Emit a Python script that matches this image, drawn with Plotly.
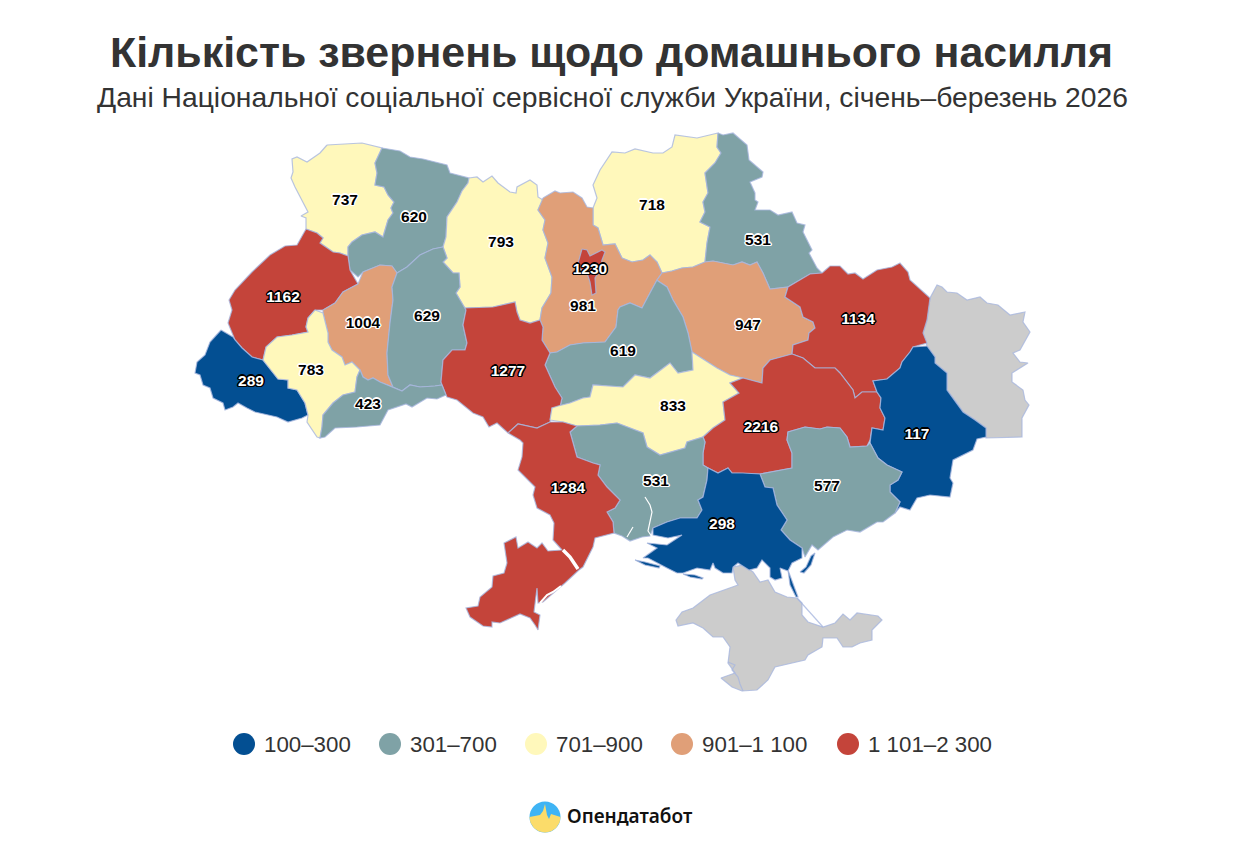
import numpy as np
import plotly.graph_objects as go

TITLE = "Кількість звернень щодо домашнього насилля"
SUBTITLE = "Дані Національної соціальної сервісної служби України, січень–березень 2026"
BRAND = "Опендатабот"

REGIONS = ["Волинська", "Рівненська", "Житомирська", "Чернігівська", "Сумська", "Київська", "м. Київ", "Львівська",
           "Тернопільська", "Хмельницька", "Полтавська", "Харківська", "Черкаська", "Закарпатська", "Івано-Франківська",
           "Вінницька", "Чернівецька", "Кіровоградська", "Дніпропетровська", "Донецька", "Миколаївська", "Одеська",
           "Запорізька", "Херсонська"]
VALUES = [737, 620, 793, 718, 531, 981, 1230, 1162, 1004, 629, 947, 1134, 619, 289, 783, 1277, 423, 833, 2216, 117,
          531, 1284, 577, 298]
LABEL_X = [345, 414, 501, 652, 758, 583, 590, 283, 363, 427, 748, 858, 623, 251, 311, 508, 368, 673, 761, 917, 656, 568, 827, 722]
LABEL_Y = [201, 218, 243, 206, 241, 307, 270, 298, 324, 317, 326, 320, 352, 382, 371, 372, 405, 407, 428, 435, 482, 489, 487, 525]

BIN_UPPER = [300, 700, 900, 1100, 2300]
BIN_LABELS = ["100–300", "301–700", "701–900", "901–1 100", "1 101–2 300"]
BIN_COLORS = ["#034f92", "#7fa2a6", "#fff8bb", "#e09f78", "#c4443a"]
LEGEND_X = [244, 390, 536, 682, 848]
GREY = "#cccccc"
EDGE = "rgba(168,182,222,0.8)"

VOLYN = [(327,145),(362,143),(382,148),(375,163),(377,173),(375,185),(384,187),(388,195),(394,202),(391,208),(393,213),(388,220),(383,237),(375,232),(362,235),(352,242),(348,247),(348,256),(340,253),(333,252),(320,243),(323,238),(317,233),(306,229),(306,218),(301,216),(308,212),(300,197),(295,187),(291,178),(293,172),(292,159),(297,157),(307,162),(320,153)]
RIVNE = [(382,148),(400,151),(410,157),(423,159),(447,165),(450,173),(469,178),(468,183),(462,191),(457,202),(447,217),(446,237),(443,247),(433,249),(420,255),(407,267),(397,273),(392,266),(380,265),(363,272),(358,277),(350,270),(348,256),(348,247),(352,242),(362,235),(375,232),(383,237),(388,220),(393,213),(391,208),(394,202),(388,195),(384,187),(375,185),(377,173),(375,163)]
LVIV = [(306,229),(317,233),(323,238),(320,243),(333,252),(340,253),(348,256),(350,270),(358,284),(343,292),(335,303),(323,310),(315,310),(308,318),(306,327),(308,332),(292,335),(277,337),(266,347),(263,360),(252,357),(242,348),(235,340),(228,323),(232,310),(229,300),(235,290),(252,272),(270,255),(285,246),(297,245)]
ZAKARPATTIA = [(221,330),(233,337),(235,340),(242,348),(252,357),(263,360),(278,379),(288,380),(288,388),(297,390),(305,403),(308,415),(302,418),(288,422),(277,417),(268,415),(255,412),(247,408),(238,403),(233,407),(225,410),(223,403),(213,398),(210,388),(203,385),(200,375),(195,373),(197,362),(205,355),(210,342)]
FRANKIVSK = [(315,310),(323,313),(328,333),(328,342),(332,350),(342,357),(345,365),(352,362),(360,370),(357,377),(355,392),(343,395),(333,403),(323,415),(322,427),(320,438),(317,437),(307,422),(308,415),(305,403),(297,390),(288,388),(288,380),(278,379),(263,360),(266,347),(277,337),(292,335),(308,332),(306,327),(308,318)]
TERNOPIL = [(358,284),(363,272),(380,265),(392,266),(397,273),(392,287),(393,300),(390,323),(387,353),(388,375),(393,387),(380,382),(373,378),(368,380),(363,377),(360,370),(352,362),(345,365),(342,357),(332,350),(328,342),(328,333),(323,313),(323,310),(335,303),(343,292)]
CHERNIVTSI = [(360,370),(363,377),(368,380),(373,378),(380,382),(393,387),(402,391),(410,385),(420,387),(435,386),(442,385),(446,395),(437,399),(427,398),(412,407),(406,404),(388,410),(380,425),(357,427),(335,428),(325,437),(320,438),(322,427),(323,415),(333,403),(343,395),(355,392),(357,377)]
KHMELNYTSKYI = [(397,273),(407,267),(420,255),(433,249),(443,247),(447,258),(443,262),(453,273),(459,273),(460,287),(456,293),(463,305),(465,308),(466,310),(463,325),(467,343),(465,350),(452,350),(443,360),(441,382),(442,385),(435,386),(420,387),(410,385),(402,391),(393,387),(388,375),(387,353),(390,323),(393,300),(392,287)]
ZHYTOMYR = [(469,178),(477,177),(483,182),(492,176),(498,183),(510,192),(516,193),(517,187),(530,180),(537,185),(538,197),(543,200),(538,210),(545,220),(543,230),(548,243),(545,258),(552,277),(551,293),(542,308),(540,320),(530,323),(520,320),(517,312),(515,302),(493,307),(465,308),(463,305),(456,293),(460,287),(459,273),(453,273),(443,262),(447,258),(443,247),(446,237),(447,217),(457,202),(462,191),(468,183)]
VINNYTSIA = [(465,308),(493,307),(515,302),(517,312),(520,320),(530,323),(540,320),(543,327),(542,340),(550,353),(545,365),(555,387),(562,398),(560,407),(552,408),(550,422),(537,428),(518,424),(508,433),(497,423),(489,427),(483,417),(473,413),(457,400),(447,397),(446,395),(442,385),(441,382),(443,360),(452,350),(465,350),(467,343),(463,325),(466,310)]
KYIV_OBL = [(543,198),(555,191),(560,193),(573,192),(582,198),(587,207),(593,208),(593,225),(598,228),(603,245),(615,244),(622,258),(632,262),(643,260),(650,255),(657,262),(662,273),(657,280),(650,293),(642,308),(630,303),(620,307),(618,310),(616,327),(605,342),(583,343),(570,345),(557,352),(550,353),(542,340),(543,327),(540,320),(542,308),(551,293),(552,277),(545,258),(548,243),(543,230),(545,220),(538,210)]
KYIV_CITY = [(582,249),(587,250),(590,256),(602,250),(605,252),(602,260),(600,270),(595,278),(596,293),(592,295),(590,282),(587,273),(577,267),(580,255)]
CHERNIHIV = [(593,208),(597,198),(593,185),(600,170),(612,152),(625,153),(635,149),(653,153),(663,153),(672,147),(675,135),(697,138),(718,133),(717,147),(721,153),(715,163),(705,173),(708,193),(703,202),(705,212),(700,222),(710,227),(707,243),(705,262),(693,267),(682,268),(672,271),(662,273),(657,262),(650,255),(643,260),(632,262),(622,258),(615,244),(603,245),(598,228),(593,225)]
SUMY = [(718,133),(723,135),(733,133),(747,145),(749,160),(763,172),(762,177),(750,182),(755,193),(755,200),(758,202),(755,210),(770,210),(778,215),(792,212),(797,223),(805,225),(803,232),(812,250),(809,253),(817,268),(822,273),(810,274),(788,287),(770,289),(763,273),(757,262),(750,265),(742,262),(733,265),(713,261),(705,262),(707,243),(710,227),(700,222),(705,212),(703,202),(708,193),(705,173),(715,163),(721,153),(717,147)]
POLTAVA = [(705,262),(713,261),(733,265),(742,262),(750,265),(757,262),(763,273),(770,289),(788,287),(785,297),(800,307),(803,317),(813,322),(815,328),(809,333),(808,340),(793,345),(792,354),(770,360),(763,368),(762,383),(743,378),(730,375),(717,368),(692,352),(688,333),(683,317),(673,300),(667,287),(658,281),(657,280),(662,273),(672,271),(682,268),(693,267)]
KHARKIV = [(822,273),(830,266),(840,266),(848,274),(855,273),(863,279),(877,270),(892,267),(900,263),(908,272),(910,280),(930,298),(927,320),(923,333),(927,343),(913,347),(910,352),(902,362),(900,368),(887,379),(873,381),(877,392),(862,392),(855,398),(853,390),(847,382),(840,373),(835,368),(815,368),(803,358),(792,354),(793,345),(808,340),(809,333),(815,328),(813,322),(803,317),(800,307),(785,297),(788,287),(810,274)]
CHERKASY = [(657,280),(658,281),(667,287),(673,300),(683,317),(688,333),(692,352),(693,370),(678,373),(670,363),(650,378),(635,375),(623,387),(610,386),(593,385),(590,397),(583,398),(570,403),(558,406),(552,408),(560,407),(562,398),(555,387),(545,365),(550,353),(557,352),(570,345),(583,343),(605,342),(616,327),(618,310),(620,307),(630,303),(642,308),(650,293)]
KIROVOHRAD = [(550,420),(552,408),(558,406),(570,403),(583,398),(590,397),(593,385),(610,386),(623,387),(635,375),(650,378),(670,363),(678,373),(693,370),(692,352),(717,368),(730,375),(743,378),(730,383),(739,393),(723,402),(725,420),(713,428),(703,437),(687,442),(685,448),(660,455),(647,447),(643,433),(630,428),(617,423),(600,425),(577,426),(563,422)]
DNIPRO = [(792,354),(803,358),(815,368),(835,368),(840,373),(847,382),(853,390),(855,398),(862,392),(877,392),(881,398),(880,408),(885,418),(883,430),(872,428),(870,440),(867,446),(850,447),(847,437),(840,428),(827,427),(820,429),(805,427),(788,432),(787,440),(792,453),(792,468),(760,474),(743,473),(732,473),(728,468),(718,473),(708,468),(703,465),(703,453),(705,442),(703,437),(713,428),(725,420),(723,402),(739,393),(730,383),(743,378),(762,383),(763,368),(770,360)]
MYKOLAIV = [(577,426),(600,425),(617,423),(630,428),(643,433),(647,447),(660,455),(685,448),(687,442),(703,437),(705,442),(703,453),(703,465),(708,468),(707,480),(703,497),(698,500),(702,510),(697,518),(680,518),(667,522),(653,528),(650,536),(642,537),(630,541),(622,536),(614,533),(613,522),(607,512),(615,508),(620,500),(607,487),(598,475),(600,465),(593,463),(577,457),(570,432)]
ODESA = [(508,433),(518,424),(537,428),(550,422),(563,422),(577,426),(570,432),(577,457),(593,463),(600,465),(598,475),(607,487),(620,500),(615,508),(607,512),(613,522),(614,533),(595,538),(593,547),(583,567),(579,570),(565,583),(543,602),(538,603),(537,588),(535,605),(534,612),(540,615),(538,630),(535,625),(530,618),(520,614),(500,623),(492,622),(492,627),(483,626),(470,617),(466,608),(478,606),(480,597),(492,587),(493,576),(504,573),(507,563),(504,543),(516,537),(518,548),(528,542),(537,548),(542,543),(548,551),(562,550),(553,540),(554,523),(550,515),(537,508),(533,495),(535,487),(528,480),(518,470),(522,457),(523,443),(520,440)]
ZAPORIZHZHIA = [(760,474),(792,468),(792,453),(787,440),(788,432),(805,427),(820,429),(827,427),(840,428),(847,437),(850,447),(867,446),(870,443),(878,458),(887,465),(902,472),(898,480),(890,485),(890,492),(900,502),(895,513),(883,522),(877,522),(860,532),(847,530),(833,537),(818,550),(812,545),(805,557),(802,548),(790,540),(781,530),(787,520),(777,505),(773,488),(765,487)]
DONETSK = [(910,352),(913,347),(927,346),(935,357),(935,363),(947,373),(947,390),(957,403),(963,412),(975,420),(986,428),(986,437),(977,439),(973,450),(953,460),(950,478),(953,483),(950,497),(930,495),(917,498),(910,510),(900,507),(895,513),(900,502),(890,492),(890,485),(898,480),(902,472),(887,465),(878,458),(870,443),(872,428),(883,430),(885,418),(880,408),(881,398),(877,392),(873,381),(887,379),(900,368),(902,362)]
KHERSON = [(653,528),(667,522),(680,518),(697,518),(702,510),(698,500),(703,497),(707,480),(708,468),(718,473),(728,468),(732,473),(743,473),(760,474),(765,487),(773,488),(777,505),(787,520),(781,530),(790,540),(802,548),(802,558),(792,563),(788,571),(780,568),(782,578),(775,580),(770,577),(770,568),(762,560),(757,568),(749,570),(738,563),(733,567),(732,573),(723,573),(715,568),(713,563),(710,570),(697,568),(683,573),(677,573),(667,568),(655,562),(648,558),(643,558),(652,552),(657,548),(647,543),(667,545),(682,535),(668,538),(653,535)]
KHERSON_SPIT_A = [(635,560),(645,562),(660,566),(659,568),(645,565)]
KHERSON_SPIT_B = [(683,574),(695,575),(703,578),(702,579),(690,577)]
KHERSON_SPIT_C = [(788,570),(793,583),(798,597),(796,597),(790,585)]
KHERSON_SPIT_D = [(800,572),(806,567),(811,556),(815,553),(811,565),(804,573)]
LUHANSK = [(930,298),(937,285),(942,287),(947,292),(957,293),(967,300),(980,297),(987,303),(998,305),(1010,315),(1025,312),(1023,322),(1030,332),(1020,350),(1013,353),(1020,362),(1028,363),(1012,373),(1012,382),(1023,390),(1025,400),(1029,405),(1022,418),(1022,437),(986,438),(986,428),(975,420),(963,412),(957,403),(947,390),(947,373),(935,363),(935,357),(927,346),(923,333),(927,320)]
CRIMEA = [(733,567),(735,580),(738,585),(725,590),(710,595),(693,608),(682,612),(676,620),(678,626),(693,623),(703,628),(713,637),(723,637),(730,647),(728,663),(735,673),(721,678),(732,687),(742,691),(757,690),(768,680),(775,667),(805,660),(808,655),(822,647),(823,638),(837,638),(843,647),(852,647),(860,643),(872,640),(872,630),(882,620),(878,616),(857,613),(850,620),(843,614),(835,623),(823,627),(808,622),(802,615),(802,603),(797,598),(787,597),(775,592),(768,580),(760,582),(753,572),(743,565)]
ARABAT_LINE = [(797,598),(810,612),(823,627)]
SEVASTOPOL_LINE = [(728,662),(735,665),(732,670),(738,677),(740,684),(743,691)]
WATER_DNIPRO = [(645,497),(650,505),(652,512),(650,522),(648,531),(652,537)]
WATER_INLET = [(627,537),(633,527)]
WATER_DNIESTER = [(563,550),(570,557),(578,569)]
WATER_SASYK = [(540,603),(547,595),(553,592),(561,586)]

OUTLINES = [[VOLYN], [RIVNE], [ZHYTOMYR], [CHERNIHIV], [SUMY], [KYIV_OBL], [KYIV_CITY], [LVIV], [TERNOPIL], [KHMELNYTSKYI],
            [POLTAVA], [KHARKIV], [CHERKASY], [ZAKARPATTIA], [FRANKIVSK], [VINNYTSIA], [CHERNIVTSI], [KIROVOHRAD], [DNIPRO],
            [DONETSK], [MYKOLAIV], [ODESA], [ZAPORIZHZHIA], [KHERSON, KHERSON_SPIT_A, KHERSON_SPIT_B, KHERSON_SPIT_C, KHERSON_SPIT_D]]


def unpack(parts, close=True):
    xs, ys = [], []
    for part in parts:
        pts = part + [part[0]] if close else part
        xs += [p[0] for p in pts] + [None]
        ys += [p[1] for p in pts] + [None]
    return xs, ys


def color_for(value):
    for upper, color in zip(BIN_UPPER, BIN_COLORS):
        if value <= upper:
            return color
    return BIN_COLORS[-1]


fig = go.Figure()

for name, parts in (("Луганська", [LUHANSK]), ("АР Крим", [CRIMEA])):
    x, y = unpack(parts)
    fig.add_trace(go.Scatter(x=x, y=y, mode="lines", fill="toself", fillcolor=GREY, name=name,
                             line=dict(color=EDGE, width=1.2), hoverinfo="name", showlegend=False))

# Kyiv city sits on top of Kyiv oblast, so it is drawn after every other region.
order = [i for i in range(len(REGIONS)) if REGIONS[i] != "м. Київ"] + [REGIONS.index("м. Київ")]
for i in order:
    x, y = unpack(OUTLINES[i])
    fig.add_trace(go.Scatter(x=x, y=y, mode="lines", fill="toself", fillcolor=color_for(VALUES[i]), name=REGIONS[i],
                             line=dict(color=EDGE, width=1.2), text=f"{REGIONS[i]}: {VALUES[i]}", hoverinfo="text",
                             showlegend=False))

for line in (ARABAT_LINE, SEVASTOPOL_LINE):
    x, y = unpack([line], close=False)
    fig.add_trace(go.Scatter(x=x, y=y, mode="lines", line=dict(color=EDGE, width=1.2), hoverinfo="skip", showlegend=False))
for line, w in ((WATER_DNIPRO, 1.2), (WATER_INLET, 1.2), (WATER_DNIESTER, 3.5), (WATER_SASYK, 2)):
    x, y = unpack([line], close=False)
    fig.add_trace(go.Scatter(x=x, y=y, mode="lines", line=dict(color="white", width=w), hoverinfo="skip", showlegend=False))

OFFSETS = [(1, 0), (-1, 0), (0, 1), (0, -1), (1, 1), (-1, -1), (1, -1), (-1, 1), (1.5, 0), (-1.5, 0), (0, 1.5), (0, -1.5)]
DARK_HALO = ",".join(f"{a}px {b}px 0.5px #000" for a, b in OFFSETS)
LIGHT_HALO = ",".join(f"{a}px {b}px 0.5px #fff" for a, b in OFFSETS)
for dark in (True, False):
    idx = [i for i in range(len(VALUES)) if (color_for(VALUES[i]) in (BIN_COLORS[0], BIN_COLORS[4])) == dark]
    fig.add_trace(go.Scatter(x=[LABEL_X[i] for i in idx], y=[LABEL_Y[i] for i in idx], mode="text",
                             text=[str(VALUES[i]) for i in idx], textposition="middle center",
                             textfont=dict(family="Liberation Sans, Arial", size=15.5, weight="bold",
                                           color="#fff" if dark else "#000",
                                           shadow=DARK_HALO if dark else LIGHT_HALO),
                             hoverinfo="skip", showlegend=False))

# Legend keys with their class labels.
fig.add_trace(go.Scatter(x=LEGEND_X, y=[744] * 5, mode="markers", marker=dict(size=22, color=BIN_COLORS),
                         hoverinfo="skip", showlegend=False))
fig.add_trace(go.Scatter(x=[v + 20 for v in LEGEND_X], y=[746.5] * 5, mode="text", text=BIN_LABELS,
                         textposition="middle right",
                         textfont=dict(family="Liberation Sans, Arial", size=22.3, color="#333"),
                         hoverinfo="skip", showlegend=False))

# Brand mark: blue disc, yellow lower half with a small pulse on its upper edge.
theta = np.linspace(0, np.pi, 40)
lower_x = (545 + 15.5 * np.cos(theta)).tolist()
lower_y = (817 + 15.5 * np.sin(theta)).tolist()
pulse_x = [529.5, 540, 543, 545, 547, 549, 551, 560.5]
pulse_y = [817, 815, 811, 804, 815, 819, 814, 817]
fig.add_trace(go.Scatter(x=[545], y=[817], mode="markers", marker=dict(size=31, color="#3fb4f4"),
                         hoverinfo="skip", showlegend=False))
fig.add_trace(go.Scatter(x=lower_x + pulse_x, y=lower_y + pulse_y, mode="lines", fill="toself", fillcolor="#fbdc6a",
                         line=dict(width=0), hoverinfo="skip", showlegend=False))
fig.add_trace(go.Scatter(x=[567], y=[818], mode="text", text=[BRAND], textposition="middle right",
                         textfont=dict(family="Noto Sans", size=19, weight=600, color="#111"),
                         hoverinfo="skip", showlegend=False))

fig.update_layout(
    width=1249, height=851, margin=dict(l=0, r=0, t=0, b=0),
    paper_bgcolor="white", plot_bgcolor="white",
    xaxis=dict(range=[0, 1249], visible=False, fixedrange=True),
    yaxis=dict(range=[851, 0], visible=False, fixedrange=True),
    title=dict(text=f"<b>{TITLE}</b>", x=611.5 / 1249, xanchor="center", y=1 - 52 / 851, yanchor="middle",
               font=dict(family="Liberation Sans, Arial", size=42.9, color="#333")),
    annotations=[dict(text=SUBTITLE, x=612, y=97, xref="x", yref="y", showarrow=False, xanchor="center", yanchor="middle",
                      font=dict(family="Liberation Sans, Arial", size=28.25, color="#333"))],
)

fig.write_html("out.html", config={"displayModeBar": False},
               post_script="document.body.style.margin='0';document.body.style.overflow='hidden';")
